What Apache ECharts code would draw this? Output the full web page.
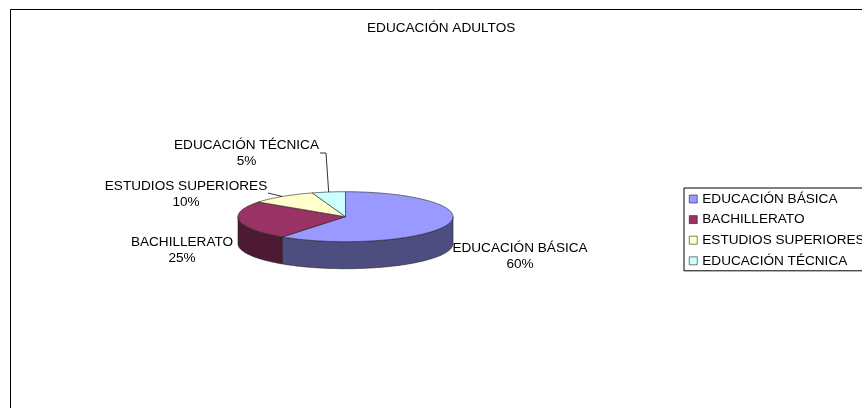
<!DOCTYPE html>
<html><head><meta charset="utf-8">
<style>html,body{margin:0;padding:0;background:#fff}#c{width:862px;height:408px}</style>
<script src="https://cdn.jsdelivr.net/npm/echarts@6/dist/echarts.min.js"></script>
</head><body><div id="c"></div>
<script>
const categories = ['EDUCACIÓN BÁSICA', 'BACHILLERATO', 'ESTUDIOS SUPERIORES', 'EDUCACIÓN TÉCNICA'];
const values = [60, 25, 10, 5];
const topColors = ['#9999ff', '#993366', '#ffffcc', '#ccffff'];
const sideColors = ['#4d4d80', '#4d1a33', '#808066', '#668080'];
const labelCenters = [[520, 248.5], [182, 242], [186, 186], [246.5, 145]];
const leaderStarts = [null, null, [268, 193], [320, 153]];
const leaderElbows = [null, null, null, [326, 153]];

const PIE = {cx: 345.5, cy: 216.7, rx: 107.5, ry: 25, depth: 27};
const FONT_SIZE = 13.6;
const FONT_FAMILY = '"Liberation Sans", Arial, sans-serif';
const total = values.reduce((a, b) => a + b, 0);
const pt = (t, dy) => [PIE.cx + PIE.rx * Math.sin(t), PIE.cy - PIE.ry * Math.cos(t) + (dy || 0)];
function arc(a, b, dy) {
  const n = Math.max(2, Math.ceil(Math.abs(b - a) * 40)), out = [];
  for (let i = 0; i <= n; i++) out.push(pt(a + (b - a) * i / n, dy));
  return out;
}
const stroke = {stroke: '#222', lineWidth: 0.6};

function renderSlice(params, api) {
  const i = params.seriesIndex;
  const before = values.slice(0, i).reduce((a, b) => a + b, 0);
  const a = before / total * 2 * Math.PI;
  const b = (before + api.value(0)) / total * 2 * Math.PI;
  const children = [];
  const s = Math.max(a, Math.PI / 2), e = Math.min(b, 3 * Math.PI / 2);
  if (e > s) {
    children.push({type: 'polygon', z2: 1,
      shape: {points: arc(s, e, 0).concat(arc(e, s, PIE.depth))},
      style: Object.assign({fill: sideColors[i]}, stroke)});
  }
  children.push({type: 'polygon', z2: 2,
    shape: {points: [[PIE.cx, PIE.cy]].concat(arc(a, b, 0))},
    style: Object.assign({fill: topColors[i]}, stroke)});
  const [lx, ly] = labelCenters[i];
  children.push({type: 'text', z2: 5, x: lx, y: ly + 8,
    style: {text: categories[i] + '\n' + api.value(0) + '%',
      fontFamily: FONT_FAMILY, fontSize: FONT_SIZE, fill: '#000',
      align: 'center', verticalAlign: 'middle', lineHeight: 16}});
  if (leaderStarts[i]) {
    const pts = [leaderStarts[i]];
    if (leaderElbows[i]) pts.push(leaderElbows[i]);
    pts.push(pt((a + b) / 2, 0));
    children.push({type: 'polyline', z2: 4, shape: {points: pts},
      style: {stroke: '#000', lineWidth: 0.8, fill: null}});
  }
  return {type: 'group', children};
}

const chart = echarts.init(document.getElementById('c'), null, {renderer: 'canvas'});
chart.setOption({
  animation: false,
  backgroundColor: '#fff',
  title: {text: 'EDUCACIÓN ADULTOS', left: 367, top: 21,
    textStyle: {fontFamily: FONT_FAMILY, fontSize: FONT_SIZE, fontWeight: 'normal', color: '#000'},
    padding: 0},
  legend: {
    orient: 'vertical', left: 684, top: 188, padding: [3, 6, 2, 5], itemGap: 4.6,
    itemWidth: 8, itemHeight: 8, icon: 'rect', borderColor: '#000', borderWidth: 1,
    selectedMode: false, data: categories,
    itemStyle: {borderWidth: 0.5, borderColor: '#000'},
    textStyle: {fontFamily: FONT_FAMILY, fontSize: FONT_SIZE, color: '#000', padding: [0, 0, 0, 0], lineHeight: 16}
  },
  graphic: [{type: 'polyline', silent: true, z: -1,
    shape: {points: [[10.5, 420], [10.5, 9.5], [870, 9.5]]},
    style: {stroke: '#000', lineWidth: 1, fill: null}}],
  series: categories.map((name, i) => ({
    type: 'custom', name, coordinateSystem: 'none', silent: true,
    itemStyle: {color: topColors[i]},
    renderItem: renderSlice,
    data: [[values[i]]]
  }))
});
</script></body></html>
